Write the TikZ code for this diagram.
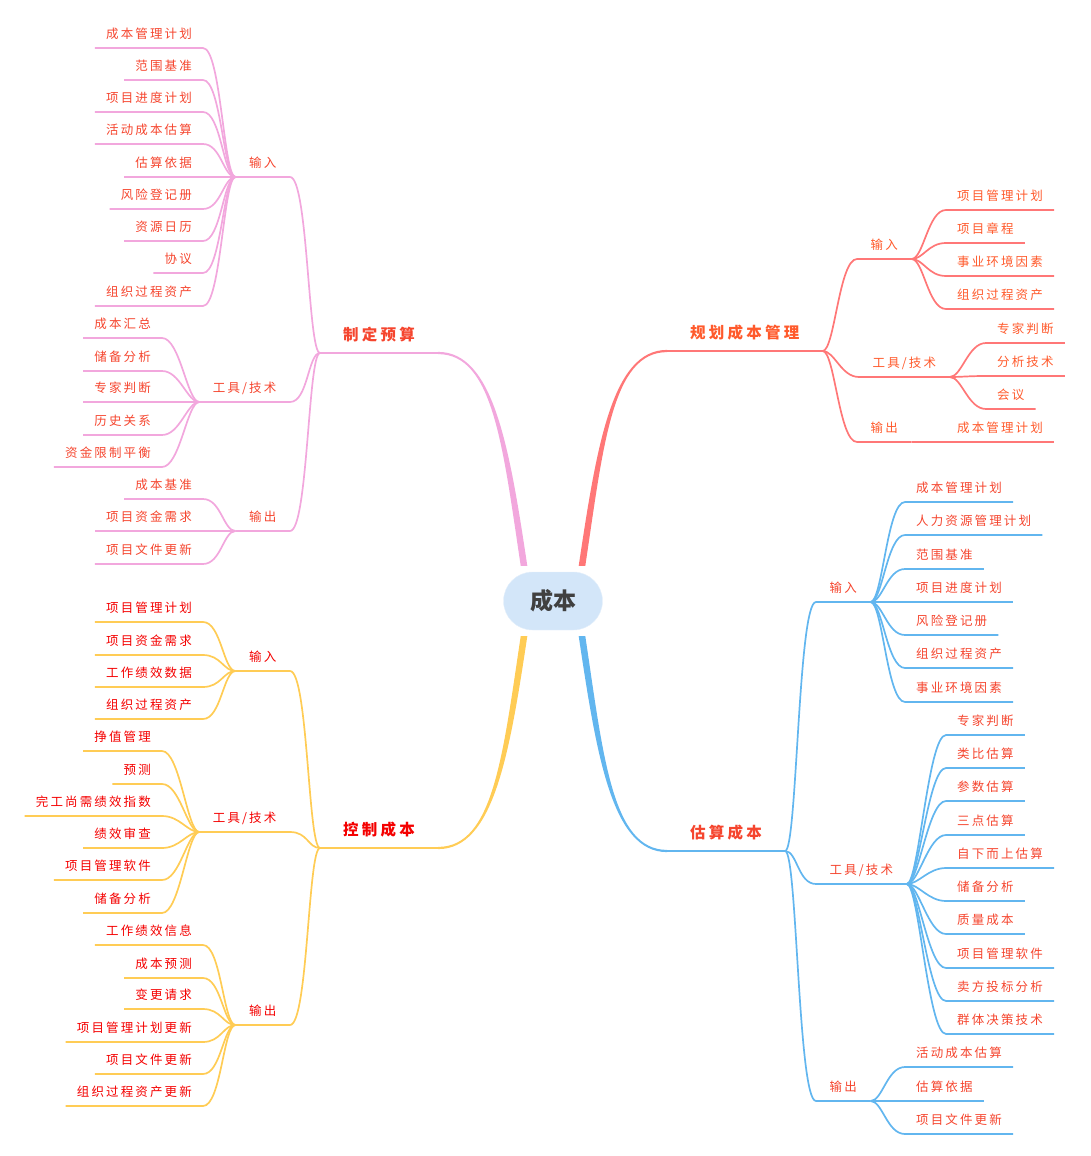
\documentclass[tikz,border=0pt]{standalone}
\usepackage{fontspec}
\newfontfamily\zhleaf[LetterSpace=17]{Noto Sans CJK SC}
\newfontfamily\zhtopic[LetterSpace=21]{Noto Sans CJK SC}
\newfontfamily\zhroot{Noto Sans CJK SC}
\usetikzlibrary{calc}

\definecolor{pinkline}{HTML}{F2A7DD}
\definecolor{redline}{HTML}{FF7777}
\definecolor{yellowline}{HTML}{FFCC55}
\definecolor{blueline}{HTML}{62B6EF}
\definecolor{pinktext}{HTML}{F5452E}
\definecolor{plantext}{HTML}{FF5A2C}
\definecolor{ctrltext}{HTML}{F40000}
\definecolor{rootfill}{HTML}{D3E6F9}
\definecolor{roottext}{HTML}{404040}

\begin{document}
\begin{tikzpicture}[
  x=1pt, y=-1pt,
  leaf/.style={font=\zhleaf\fontsize{12.5}{14}\selectfont, text height=10pt, text depth=2.5pt, inner xsep=11pt, inner ysep=6.75pt},
  sub/.style={leaf, inner xsep=13.5pt},
  topic/.style={font=\zhtopic\bfseries\fontsize{15.5}{18}\selectfont, text height=12.5pt, text depth=3pt, inner xsep=23pt, inner ysep=9pt},
  rootbox/.style={fill=rootfill, draw=rootfill!60!white, rounded corners=29pt, minimum width=99pt, minimum height=58pt, text=roottext, font=\zhroot\bfseries\fontsize{23}{26}\selectfont},
  pinkedge/.style={draw=pinkline, line width=1.7pt},
  rededge/.style={draw=redline, line width=1.7pt},
  yellowedge/.style={draw=yellowline, line width=1.7pt},
  blueedge/.style={draw=blueline, line width=1.7pt}
]
\useasboundingbox (0,0) rectangle (1090,1156);

% centre
\node[rootbox] (root) at (553,601) {成本};
\coordinate (rpink) at ($(root.north)+(-29,-6)$);
\coordinate (rred) at ($(root.north)+(29,-6)$);
\coordinate (ryellow) at ($(root.south)+(-29,6)$);
\coordinate (rblue) at ($(root.south)+(29,6)$);

% main topics
\node[topic, anchor=south west, text=pinktext] (zd) at (320,353) {制定预算};
\node[topic, anchor=south west, text=plantext] (gh) at (667,351) {规划成本管理};
\node[topic, anchor=south west, text=ctrltext] (kz) at (320,848) {控制成本};
\node[topic, anchor=south west, text=pinktext] (gs) at (667,851) {估算成本};
\draw[pinkedge] (zd.south west) -- (zd.south east);
\draw[rededge] (gh.south west) -- (gh.south east);
\draw[yellowedge] (kz.south west) -- (kz.south east);
\draw[blueedge] (gs.south west) -- (gs.south east);

% tapered main branches
\foreach \s/\e/\cx/\cy/\ex/\sg/\col in {rpink/zd.south east/-18/-120/55/1.1/pinkline,
    rred/gh.south west/18/-120/-55/-1.1/redline,
    ryellow/kz.south east/-18/120/55/-1.1/yellowline,
    rblue/gs.south west/18/120/-55/1.1/blueline}{
  \fill[\col] ($(\s)+(-3.3,0)$) .. controls +(\cx,\cy) and +(\ex,0) .. ($(\e)+(0,\sg)$)
    -- ($(\e)+(0,-\sg)$) .. controls +(\ex,0) and +(\cx,\cy) .. ($(\s)+(3.3,0)$) -- cycle;
}

% sub topics, left side
\foreach \n/\y/\t/\up/\st/\col in {zdin/177/输入/zd/pinkedge/pinktext, zdtl/402/{工具/技术}/zd/pinkedge/pinktext,
    zdout/531/输出/zd/pinkedge/pinktext, kzin/671/输入/kz/yellowedge/ctrltext,
    kztl/832/{工具/技术}/kz/yellowedge/ctrltext, kzout/1025/输出/kz/yellowedge/ctrltext}{
  \node[sub, anchor=south east, text=\col] (\n) at (290,\y) {\t};
  \draw[\st] (\up.south west) .. controls +(-12,0) and +(18,0) .. (\n.south east) -- (\n.south west);
}

% sub topics, right side
\foreach \n/\x/\y/\t/\up/\st/\col in {ghin/857/259/输入/gh/rededge/plantext, ghtl/859/377/{工具/技术}/gh/rededge/plantext,
    ghout/857/442/输出/gh/rededge/plantext, gsin/816/602/输入/gs/blueedge/pinktext,
    gstl/816/884/{工具/技术}/gs/blueedge/pinktext, gsout/816/1101/输出/gs/blueedge/pinktext}{
  \node[sub, anchor=south west, text=\col] (\n) at (\x,\y) {\t};
  \draw[\st] (\up.south east) .. controls +(12,0) and +(-18,0) .. (\n.south west) -- (\n.south east);
}

% leaves of 制定预算
\foreach \y/\t [count=\i] in {48/成本管理计划, 80/范围基准, 112/项目进度计划, 144/活动成本估算, 177/估算依据,
    209/风险登记册, 241/资源日历, 273/协议, 306/组织过程资产}{
  \node[leaf, anchor=south east, text=pinktext] (zdin\i) at (203,\y) {\t};
  \draw[pinkedge] (zdin.south west) .. controls +(-12,0) and +(18,0) .. (zdin\i.south east) -- (zdin\i.south west);
}
\foreach \y/\t [count=\i] in {338/成本汇总, 371/储备分析, 402/专家判断, 435/历史关系, 467/资金限制平衡}{
  \node[leaf, anchor=south east, text=pinktext] (zdtl\i) at (162,\y) {\t};
  \draw[pinkedge] (zdtl.south west) .. controls +(-12,0) and +(18,0) .. (zdtl\i.south east) -- (zdtl\i.south west);
}
\foreach \y/\t [count=\i] in {499/成本基准, 531/项目资金需求, 564/项目文件更新}{
  \node[leaf, anchor=south east, text=pinktext] (zdout\i) at (203,\y) {\t};
  \draw[pinkedge] (zdout.south west) .. controls +(-12,0) and +(18,0) .. (zdout\i.south east) -- (zdout\i.south west);
}

% leaves of 控制成本
\foreach \y/\t [count=\i] in {622/项目管理计划, 655/项目资金需求, 687/工作绩效数据, 719/组织过程资产}{
  \node[leaf, anchor=south east, text=ctrltext] (kzin\i) at (203,\y) {\t};
  \draw[yellowedge] (kzin.south west) .. controls +(-12,0) and +(18,0) .. (kzin\i.south east) -- (kzin\i.south west);
}
\foreach \y/\t [count=\i] in {751/挣值管理, 784/预测, 816/完工尚需绩效指数, 848/绩效审查, 880/项目管理软件, 913/储备分析}{
  \node[leaf, anchor=south east, text=ctrltext] (kztl\i) at (162,\y) {\t};
  \draw[yellowedge] (kztl.south west) .. controls +(-12,0) and +(18,0) .. (kztl\i.south east) -- (kztl\i.south west);
}
\foreach \y/\t [count=\i] in {945/工作绩效信息, 978/成本预测, 1009/变更请求, 1042/项目管理计划更新, 1074/项目文件更新, 1106/组织过程资产更新}{
  \node[leaf, anchor=south east, text=ctrltext] (kzout\i) at (203,\y) {\t};
  \draw[yellowedge] (kzout.south west) .. controls +(-12,0) and +(18,0) .. (kzout\i.south east) -- (kzout\i.south west);
}

% leaves of 规划成本管理
\foreach \y/\t [count=\i] in {210/项目管理计划, 243/项目章程, 276/事业环境因素, 309/组织过程资产}{
  \node[leaf, anchor=south west, text=plantext] (ghin\i) at (946,\y) {\t};
  \draw[rededge] (ghin.south east) .. controls +(12,0) and +(-18,0) .. (ghin\i.south west) -- (ghin\i.south east);
}
\foreach \y/\t [count=\i] in {343/专家判断, 376/分析技术, 409/会议}{
  \node[leaf, anchor=south west, text=plantext] (ghtl\i) at (986,\y) {\t};
  \draw[rededge] (ghtl.south east) .. controls +(12,0) and +(-18,0) .. (ghtl\i.south west) -- (ghtl\i.south east);
}
\node[leaf, anchor=south west, text=plantext] (ghout1) at (946,442) {成本管理计划};
\draw[rededge] (ghout.south east) -- (ghout1.south west) -- (ghout1.south east);

% leaves of 估算成本
\foreach \y/\t [count=\i] in {502/成本管理计划, 535/人力资源管理计划, 569/范围基准, 602/项目进度计划, 635/风险登记册,
    668/组织过程资产, 702/事业环境因素}{
  \node[leaf, anchor=south west, text=pinktext] (gsin\i) at (905,\y) {\t};
  \draw[blueedge] (gsin.south east) .. controls +(12,0) and +(-18,0) .. (gsin\i.south west) -- (gsin\i.south east);
}
\foreach \y/\t [count=\i] in {735/专家判断, 768/类比估算, 801/参数估算, 835/三点估算, 868/自下而上估算, 901/储备分析,
    934/质量成本, 968/项目管理软件, 1001/卖方投标分析, 1034/群体决策技术}{
  \node[leaf, anchor=south west, text=pinktext] (gstl\i) at (946,\y) {\t};
  \draw[blueedge] (gstl.south east) .. controls +(12,0) and +(-18,0) .. (gstl\i.south west) -- (gstl\i.south east);
}
\foreach \y/\t [count=\i] in {1067/活动成本估算, 1101/估算依据, 1134/项目文件更新}{
  \node[leaf, anchor=south west, text=pinktext] (gsout\i) at (905,\y) {\t};
  \draw[blueedge] (gsout.south east) .. controls +(12,0) and +(-18,0) .. (gsout\i.south west) -- (gsout\i.south east);
}
\end{tikzpicture}
\end{document}
